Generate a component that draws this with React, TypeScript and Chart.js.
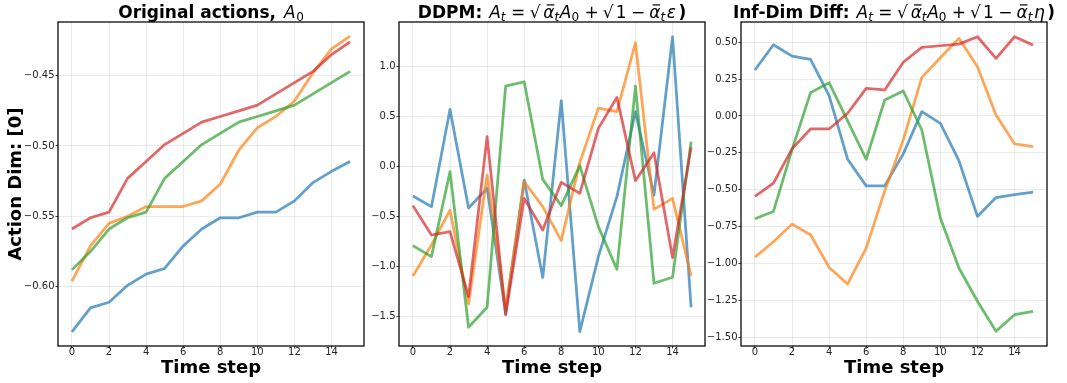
import { useEffect, useRef } from 'react';
import { Chart, registerables } from 'chart.js';

Chart.register(...registerables);

// ---------------- data ----------------
const timeSteps = [0, 1, 2, 3, 4, 5, 6, 7, 8, 9, 10, 11, 12, 13, 14, 15];
const xTicks = [0, 2, 4, 6, 8, 10, 12, 14];
const xTickLabels = ['0', '2', '4', '6', '8', '10', '12', '14'];

// Panel 1: original actions A0
const origBlue = [-0.632, -0.615, -0.611, -0.599, -0.591, -0.587, -0.571, -0.559, -0.551, -0.551, -0.547, -0.547, -0.539, -0.526, -0.518, -0.511];
const origOrange = [-0.596, -0.571, -0.555, -0.550, -0.543, -0.543, -0.543, -0.539, -0.527, -0.503, -0.487, -0.479, -0.468, -0.448, -0.431, -0.422];
const origGreen = [-0.588, -0.575, -0.559, -0.551, -0.547, -0.523, -0.511, -0.499, -0.491, -0.483, -0.479, -0.475, -0.471, -0.463, -0.455, -0.447];
const origRed = [-0.559, -0.551, -0.547, -0.523, -0.511, -0.499, -0.491, -0.483, -0.479, -0.475, -0.471, -0.463, -0.455, -0.447, -0.435, -0.426];
const origYTicks = [-0.60, -0.55, -0.50, -0.45];
const origYTickLabels = ['\u22120.60', '\u22120.55', '\u22120.50', '\u22120.45'];

// Panel 2: DDPM noised actions
const ddpmBlue = [-0.297, -0.403, 0.57, -0.417, -0.22, -1.47, -0.137, -1.113, 0.657, -1.653, -0.903, -0.303, 0.547, -0.287, 1.297, -1.41];
const ddpmOrange = [-1.097, -0.787, -0.437, -1.377, -0.087, -1.42, -0.153, -0.403, -0.743, 0.04, 0.583, 0.547, 1.237, -0.43, -0.32, -1.097];
const ddpmGreen = [-0.793, -0.903, -0.053, -1.61, -1.41, 0.803, 0.847, -0.13, -0.393, 0.007, -0.603, -1.03, 0.803, -1.17, -1.11, 0.247];
const ddpmRed = [-0.393, -0.687, -0.653, -1.303, 0.297, -1.487, -0.32, -0.637, -0.16, -0.27, 0.38, 0.69, -0.143, 0.137, -0.913, 0.19];
const ddpmYTicks = [-1.5, -1.0, -0.5, 0.0, 0.5, 1.0];
const ddpmYTickLabels = ['\u22121.5', '\u22121.0', '\u22120.5', '0.0', '0.5', '1.0'];

// Panel 3: Inf-Dim diffusion noised actions
const infBlue = [0.311, 0.482, 0.405, 0.383, 0.137, -0.293, -0.473, -0.473, -0.257, 0.029, -0.05, -0.302, -0.68, -0.552, -0.532, -0.516];
const infOrange = [-0.955, -0.851, -0.732, -0.804, -1.025, -1.137, -0.894, -0.507, -0.162, 0.261, 0.394, 0.525, 0.333, 0.007, -0.189, -0.207];
const infGreen = [-0.696, -0.646, -0.23, 0.158, 0.225, -0.034, -0.293, 0.108, 0.169, -0.095, -0.691, -1.029, -1.254, -1.457, -1.345, -1.322];
const infRed = [-0.545, -0.455, -0.223, -0.088, -0.088, 0.018, 0.187, 0.176, 0.363, 0.464, 0.475, 0.486, 0.536, 0.39, 0.536, 0.48];
const infYTicks = [-1.5, -1.25, -1.0, -0.75, -0.5, -0.25, 0.0, 0.25, 0.5];
const infYTickLabels = ['\u22121.50', '\u22121.25', '\u22121.00', '\u22120.75', '\u22120.50', '\u22120.25', '0.00', '0.25', '0.50'];

const seriesColors = ['rgba(31,119,180,0.7)', 'rgba(255,127,14,0.7)', 'rgba(44,160,44,0.7)', 'rgba(214,39,40,0.7)'];

type Part = { t: string; f: 'b' | 'i' | 'r'; sub?: boolean; bar?: boolean; gap?: number };

const FONT = '"DejaVu Sans", "Liberation Sans", sans-serif';

function fontFor(p: Part, size: number) {
  if (p.f === 'b') return `bold ${size}px ${FONT}`;
  if (p.f === 'i') return `oblique ${size}px ${FONT}`;
  return `${size}px ${FONT}`;
}

const titleOrig: Part[] = [
  { t: 'Original actions,', f: 'b' },
  { t: 'A', f: 'i', gap: 8 },
  { t: '0', f: 'r', sub: true, gap: 0.5 },
];

function mathTitle(prefix: string, noise: string): Part[] {
  return [
    { t: prefix, f: 'b' },
    { t: 'A', f: 'i', gap: 7 },
    { t: 't', f: 'i', sub: true },
    { t: '=', f: 'r', gap: 5.5 },
    { t: '\u221a', f: 'r', gap: 4.5 },
    { t: '\u03b1', f: 'i', bar: true, gap: 2.7 },
    { t: 't', f: 'i', sub: true },
    { t: 'A', f: 'i', gap: 0.6 },
    { t: '0', f: 'r', sub: true },
    { t: '+', f: 'r', gap: 5.3 },
    { t: '\u221a', f: 'r', gap: 4 },
    { t: '1', f: 'r', gap: 2.2 },
    { t: '\u2212', f: 'r', gap: 4.5 },
    { t: '\u03b1', f: 'i', bar: true, gap: 4 },
    { t: 't', f: 'i', sub: true },
    { t: noise, f: 'i', gap: 1.6 },
    { t: ')', f: 'b', gap: 2.5 },
  ];
}

const decorPlugin = {
  id: 'decor',
  afterDraw(chart: any, _args: any, opts: any) {
    const { ctx, chartArea: a } = chart;
    ctx.save();
    ctx.strokeStyle = '#000';
    ctx.lineWidth = 1.25;
    ctx.strokeRect(a.left, a.top, a.right - a.left, a.bottom - a.top);

    const parts: Part[] = opts.parts || [];
    const size = 17;
    const subSize = 12;
    const baseY = 17.5;
    let total = 0;
    const widths: number[] = [];
    for (const p of parts) {
      ctx.font = fontFor(p, p.sub ? subSize : size);
      const w = ctx.measureText(p.t).width;
      widths.push(w);
      total += w + (p.gap || 0);
    }
    let x = (a.left + a.right) / 2 - total / 2;
    ctx.fillStyle = '#000';
    ctx.strokeStyle = '#000';
    ctx.textBaseline = 'alphabetic';
    ctx.textAlign = 'left';
    parts.forEach((p, i) => {
      const s = p.sub ? subSize : size;
      x += p.gap || 0;
      ctx.font = fontFor(p, s);
      const y = p.sub ? baseY + 3.4 : baseY;
      ctx.fillText(p.t, x, y);
      if (p.bar) {
        ctx.lineWidth = 1.2;
        ctx.beginPath();
        ctx.moveTo(x + widths[i] * 0.3, y - s * 0.74);
        ctx.lineTo(x + widths[i] * 0.98, y - s * 0.74);
        ctx.stroke();
      }
      x += widths[i];
    });
    ctx.restore();
  },
};

type PanelCfg = {
  left: number;
  width: number;
  yAxisWidth: number;
  padRight: number;
  yMin: number;
  yMax: number;
  yTicks: number[];
  yTickLabels: string[];
  series: number[][];
  title: Part[];
  yTitle?: string;
};

const panels: PanelCfg[] = [
  {
    left: 0, width: 380, yAxisWidth: 58, padRight: 16,
    yMin: -0.6421, yMax: -0.4119,
    yTicks: origYTicks, yTickLabels: origYTickLabels,
    series: [origBlue, origOrange, origGreen, origRed],
    title: titleOrig, yTitle: 'Action Dim: [0]',
  },
  {
    left: 364, width: 356, yAxisWidth: 35, padRight: 15,
    yMin: -1.7975, yMax: 1.4445,
    yTicks: ddpmYTicks, yTickLabels: ddpmYTickLabels,
    series: [ddpmBlue, ddpmOrange, ddpmGreen, ddpmRed],
    title: mathTitle('DDPM:', '\u03b5'),
  },
  {
    left: 705, width: 362, yAxisWidth: 36, padRight: 20,
    yMin: -1.5567, yMax: 0.6357,
    yTicks: infYTicks, yTickLabels: infYTickLabels,
    series: [infBlue, infOrange, infGreen, infRed],
    title: mathTitle('Inf-Dim Diff:', '\u03b7'),
  },
];

function Panel({ cfg }: { cfg: PanelCfg }) {
  const ref = useRef<HTMLCanvasElement | null>(null);
  useEffect(() => {
    if (!ref.current) return;
    const chart = new Chart(ref.current, {
      type: 'line',
      data: {
        datasets: cfg.series.map((s, k) => ({
          data: s.map((v, i) => ({ x: timeSteps[i], y: v })),
          borderColor: seriesColors[k],
          backgroundColor: seriesColors[k],
          borderWidth: 2.75,
          pointRadius: 0,
          tension: 0,
          fill: false,
          borderJoinStyle: 'round',
          order: 3 - k,
        })),
      },
      options: {
        animation: false,
        responsive: false,
        events: [],
        layout: { padding: { left: 0, right: cfg.padRight, top: 22, bottom: 0 } },
        plugins: {
          legend: { display: false },
          tooltip: { enabled: false },
          title: { display: false },
          decor: { parts: cfg.title },
        } as any,
        scales: {
          x: {
            type: 'linear',
            min: -0.75,
            max: 15.75,
            afterBuildTicks: (scale: any) => {
              scale.ticks = xTicks.map((v) => ({ value: v }));
            },
            afterFit: (scale: any) => {
              scale.height = 37;
            },
            ticks: {
              autoSkip: false,
              maxRotation: 0,
              padding: -1,
              color: '#262626',
              font: { family: FONT, size: 10, lineHeight: 1 },
              callback: (v: any) => {
                const i = xTicks.indexOf(Number(v));
                return i >= 0 ? xTickLabels[i] : '';
              },
            },
            grid: {
              color: 'rgba(0,0,0,0.08)',
              lineWidth: 1,
              drawTicks: true,
              tickLength: 2.5,
              tickColor: '#444',
            },
            border: { display: false },
            title: {
              display: true,
              text: 'Time step',
              color: '#000',
              font: { family: FONT, size: 18, weight: 'bold', lineHeight: 1.2 },
              padding: { top: 0, bottom: 4 },
            },
          },
          y: {
            type: 'linear',
            min: cfg.yMin,
            max: cfg.yMax,
            afterBuildTicks: (scale: any) => {
              scale.ticks = cfg.yTicks.map((v) => ({ value: v }));
            },
            afterFit: (scale: any) => {
              scale.width = cfg.yAxisWidth;
            },
            ticks: {
              autoSkip: false,
              padding: 1,
              color: '#262626',
              font: { family: FONT, size: 10 },
              callback: (v: any) => {
                const i = cfg.yTicks.findIndex((t) => Math.abs(t - Number(v)) < 1e-9);
                return i >= 0 ? cfg.yTickLabels[i] : '';
              },
            },
            grid: {
              color: 'rgba(0,0,0,0.08)',
              lineWidth: 1,
              drawTicks: true,
              tickLength: 2.5,
              tickColor: '#444',
            },
            border: { display: false },
            title: {
              display: !!cfg.yTitle,
              text: cfg.yTitle || '',
              color: '#000',
              font: { family: FONT, size: 18, weight: 'bold', lineHeight: 1.2 },
              padding: { top: 5.5, bottom: 0 },
            },
          },
        },
      },
      plugins: [decorPlugin],
    } as any);
    return () => chart.destroy();
  }, [cfg]);
  return (
    <canvas
      ref={ref}
      width={cfg.width}
      height={383}
      style={{ position: 'absolute', left: cfg.left, top: 0, width: cfg.width, height: 383 }}
    />
  );
}

export default function App() {
  return (
    <div style={{ position: 'absolute', left: 0, top: 0, width: 1067, height: 383, background: '#fff' }}>
      {panels.map((p, i) => (
        <Panel key={i} cfg={p} />
      ))}
    </div>
  );
}
